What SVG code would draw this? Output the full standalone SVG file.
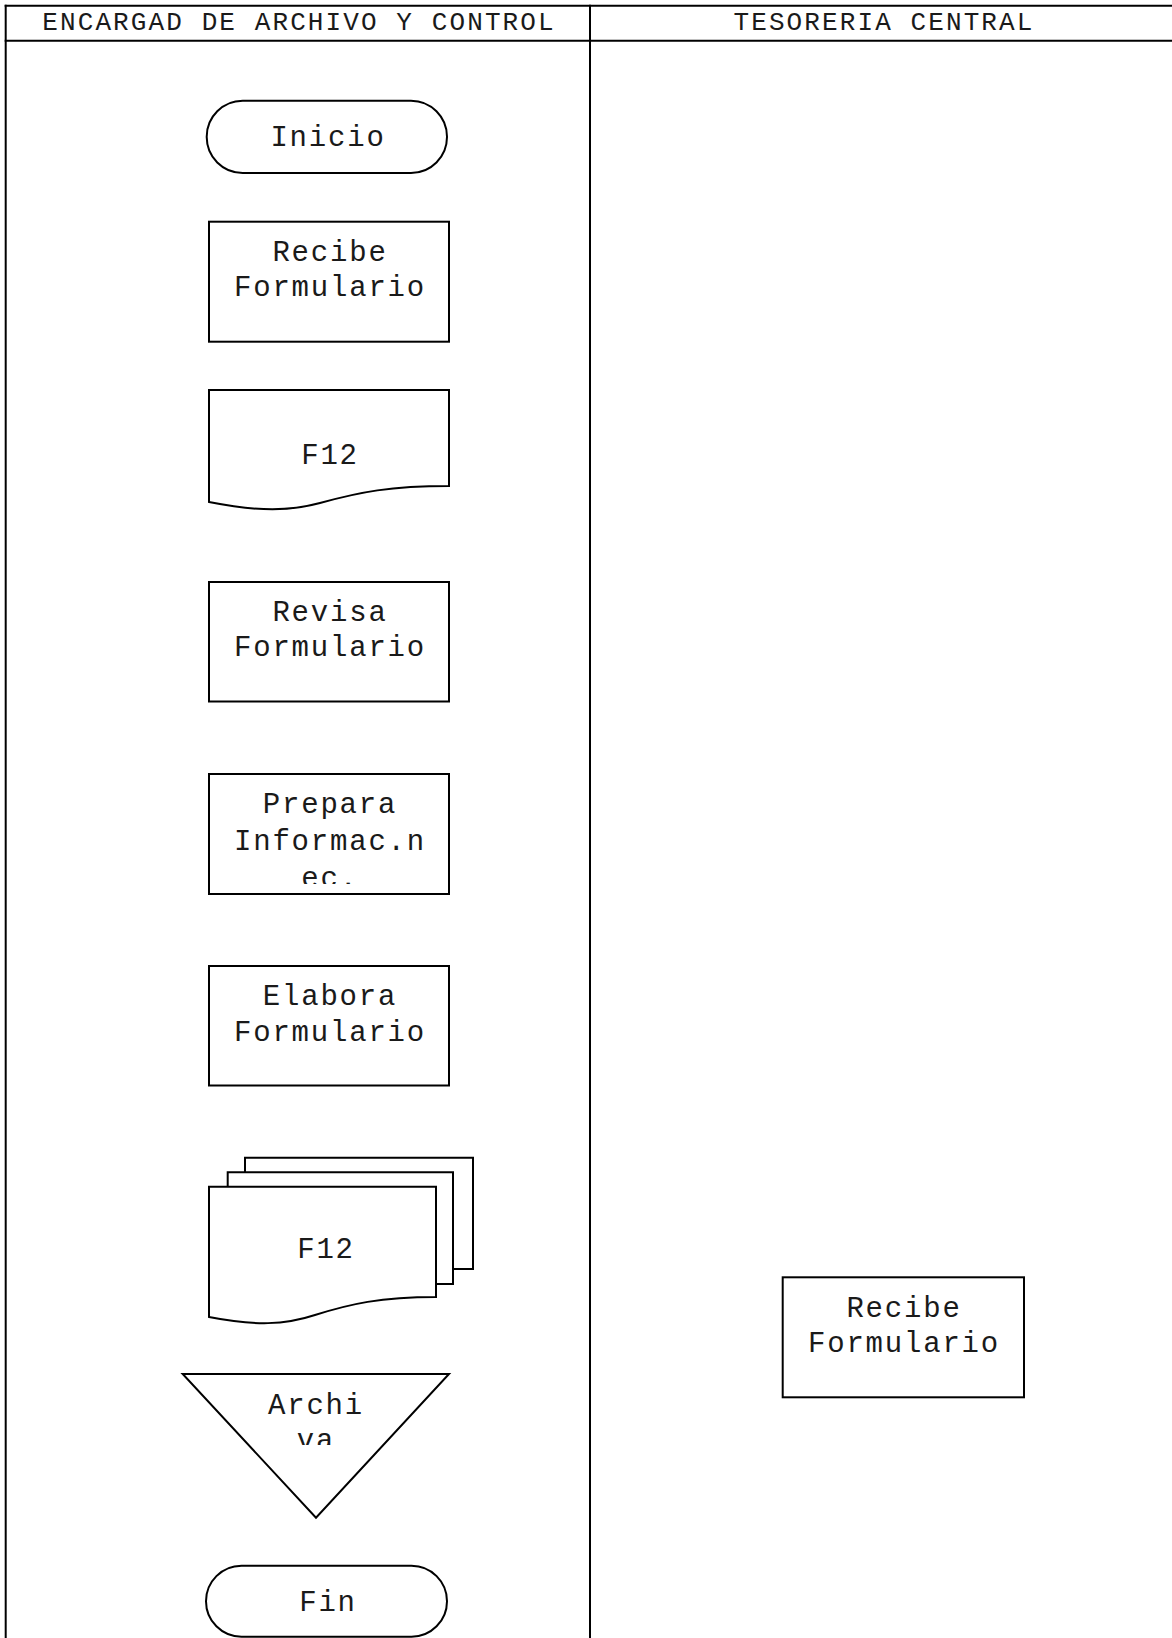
<svg xmlns="http://www.w3.org/2000/svg" width="1172" height="1638" viewBox="0 0 1172 1638">
  <style>
    .lane { fill: none; stroke: #000; stroke-width: 2; }
    .shape { fill: #fff; stroke: #000; stroke-width: 2; }
    .edge { fill: none; stroke: #000; stroke-width: 2; }
    .hdr { font-family: "Liberation Mono", "Courier New", monospace; font-size: 26px; letter-spacing: 2.1px; fill: #1a1a1a; text-anchor: middle; }
    .lbl { font-family: "Liberation Mono", "Courier New", monospace; font-size: 29px; letter-spacing: 1.8px; fill: #1a1a1a; text-anchor: middle; }
  </style>
  <defs>
    <clipPath id="clip-prepara"><rect x="209" y="774" width="240" height="110"/></clipPath>
    <clipPath id="clip-archiva"><rect x="183" y="1374" width="266" height="71"/></clipPath>
  </defs>
  <rect width="1172" height="1638" fill="#fff"/>

  <!-- swimlane frame -->
  <g id="lanes">
    <line class="lane" x1="4.7" y1="5.7" x2="1172" y2="5.7"/>
    <line class="lane" x1="4.7" y1="40.7" x2="1172" y2="40.7"/>
    <line class="lane" x1="5.7" y1="4.7" x2="5.7" y2="1638"/>
    <line class="lane" x1="590" y1="4.7" x2="590" y2="1638"/>
    <text class="hdr" x="299" y="30">ENCARGAD DE ARCHIVO Y CONTROL</text>
    <text class="hdr" x="884" y="30">TESORERIA CENTRAL</text>
  </g>

  <g id="connectors"></g>

  <g id="inicio">
    <rect class="shape" x="206.7" y="100.7" width="240.3" height="72.3" rx="36" ry="36"/>
    <text class="lbl" x="328" y="146">Inicio</text>
  </g>

  <g id="recibe-formulario">
    <rect class="shape" x="209" y="221.7" width="240" height="120"/>
    <text class="lbl" x="330" y="261">Recibe</text>
    <text class="lbl" x="330" y="296">Formulario</text>
  </g>

  <g id="doc-f12">
    <path class="shape" d="M209,390 H449 V486 C 390,486 360,492 320,503 C 290,511 260,512 209,502 Z"/>
    <text class="lbl" x="330" y="464">F12</text>
  </g>

  <g id="revisa-formulario">
    <rect class="shape" x="209" y="582" width="240" height="119.5"/>
    <text class="lbl" x="330" y="621">Revisa</text>
    <text class="lbl" x="330" y="656">Formulario</text>
  </g>

  <g id="prepara-informacion">
    <rect class="shape" x="209" y="774" width="240" height="120"/>
    <g clip-path="url(#clip-prepara)">
      <text class="lbl" x="330" y="813">Prepara</text>
      <text class="lbl" x="330" y="850">Informac.n</text>
      <text class="lbl" x="330" y="887">ec.</text>
    </g>
  </g>

  <g id="elabora-formulario">
    <rect class="shape" x="209" y="966" width="240" height="119.5"/>
    <text class="lbl" x="330" y="1005">Elabora</text>
    <text class="lbl" x="330" y="1040.5">Formulario</text>
  </g>

  <g id="docs-f12">
    <path class="shape" d="M245,1186 V1157.7 H473 V1269 H453"/>
    <path class="shape" d="M227.7,1186.7 V1172.3 H453 V1284 H436"/>
    <path class="shape" d="M209,1186.7 H436 V1297 C 380,1297 350,1304 315,1315 C 285,1325 255,1326 209,1317 Z"/>
    <text class="lbl" x="326" y="1258">F12</text>
  </g>

  <g id="archiva">
    <polygon class="shape" points="182.7,1374 449,1374 316,1517.7"/>
    <g clip-path="url(#clip-archiva)">
      <text class="lbl" x="316" y="1414">Archi</text>
      <text class="lbl" x="316" y="1449">va</text>
    </g>
  </g>

  <g id="fin">
    <rect class="shape" x="206" y="1565.7" width="241" height="71" rx="35.5" ry="35.5"/>
    <text class="lbl" x="328" y="1611">Fin</text>
  </g>

  <g id="tesoreria-recibe-formulario">
    <rect class="shape" x="782.7" y="1277.3" width="241.3" height="120"/>
    <text class="lbl" x="904" y="1317">Recibe</text>
    <text class="lbl" x="904" y="1352">Formulario</text>
  </g>
</svg>
